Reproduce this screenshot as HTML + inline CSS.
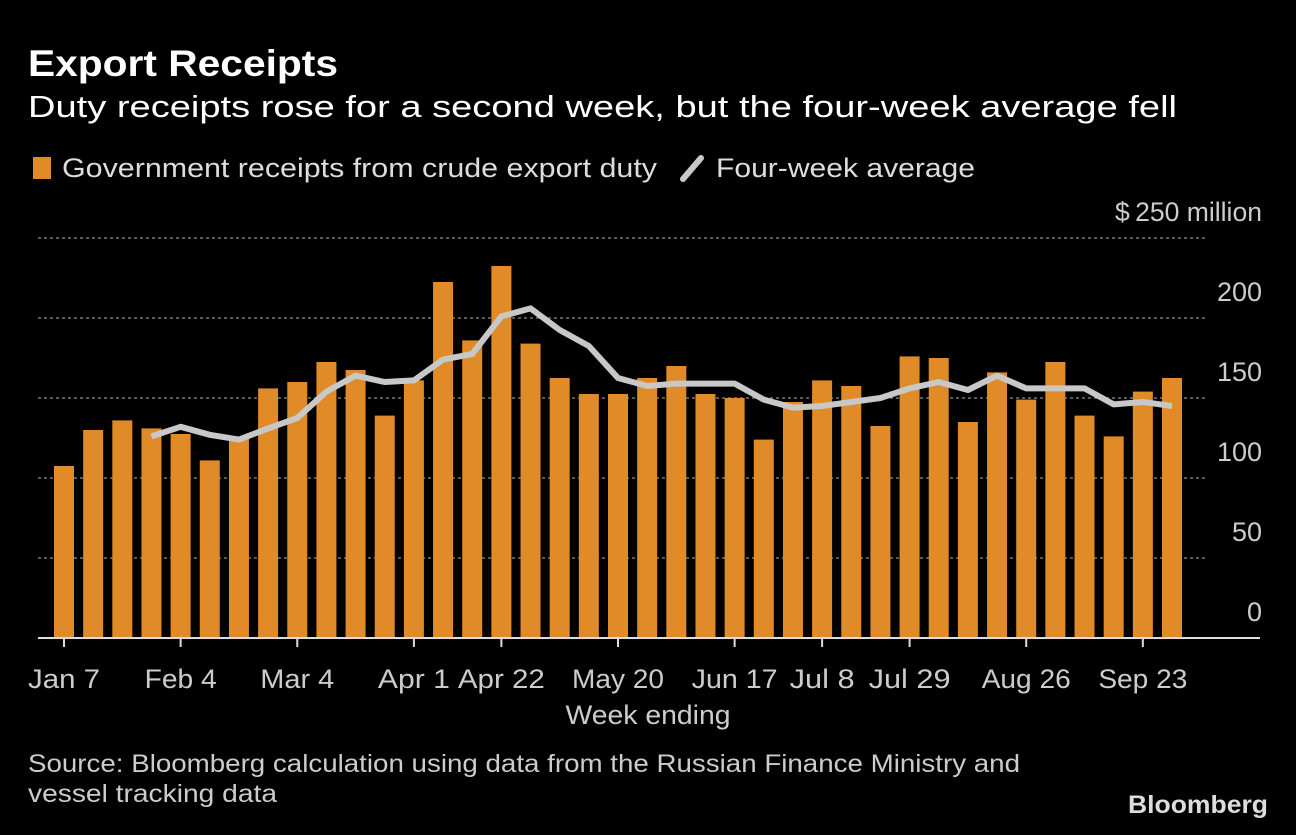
<!DOCTYPE html>
<html><head><meta charset="utf-8"><style>
body{margin:0;background:#000;width:1296px;height:830px;overflow:hidden;font-family:"Liberation Sans",sans-serif;color:#ddd}
svg text{font-family:"Liberation Sans",sans-serif}
</style></head><body>
<svg width="1296" height="830">
<text x="28" y="76" fill="#fff" font-size="37" font-weight="bold" textLength="310" lengthAdjust="spacingAndGlyphs">Export Receipts</text>
<text x="28" y="117" fill="#fff" font-size="31" textLength="1149" lengthAdjust="spacingAndGlyphs">Duty receipts rose for a second week, but the four-week average fell</text>
<g>
<rect x="33" y="157" width="18" height="22" fill="#e08b27"/>
<text x="62" y="177" fill="#ddd" font-size="27" textLength="595" lengthAdjust="spacingAndGlyphs">Government receipts from crude export duty</text>
<line x1="683" y1="179" x2="701" y2="158" stroke="#c8c8c8" stroke-width="6" stroke-linecap="round"/>
<text x="716" y="177" fill="#ddd" font-size="27" textLength="259" lengthAdjust="spacingAndGlyphs">Four-week average</text>
</g>
<g id="grid"></g><g id="bars"></g><g id="line"></g><g id="xaxis"></g>
<text x="648" y="724" fill="#ccc" font-size="27" text-anchor="middle" textLength="165" lengthAdjust="spacingAndGlyphs">Week ending</text>
<text x="28" y="772" fill="#ccc" font-size="25" textLength="992" lengthAdjust="spacingAndGlyphs">Source: Bloomberg calculation using data from the Russian Finance Ministry and</text>
<text x="28" y="802" fill="#ccc" font-size="25" textLength="249" lengthAdjust="spacingAndGlyphs">vessel tracking data</text>
<text x="1268" y="813" fill="#ddd" font-size="25" font-weight="bold" text-anchor="end" textLength="140" lengthAdjust="spacingAndGlyphs">Bloomberg</text>
</svg>
<script>
const receipts=[107.5,130,136,131,127.5,111,125,156,160,172.5,167.5,139,161,222.5,186,232.5,184,162.5,152.5,152.5,162.5,170,152.5,150,124,147.5,161,157.5,132.5,176,175,135,166,149,172.5,139,126,154,162.5];
const average=[null,null,null,126,132,127,124,131,137.5,154,164,160,161,174,177.5,201,206,192.5,182.5,162.5,157.5,159,159,159,149,144,145,147.5,150,156,160,155,164,156,156,156,146,147.5,145];
const yTicks=[0,50,100,150,200,250];
const xLabels=[[0,"Jan 7"],[4,"Feb 4"],[8,"Mar 4"],[12,"Apr 1"],[15,"Apr 22"],[19,"May 20"],[23,"Jun 17"],[26,"Jul 8"],[29,"Jul 29"],[33,"Aug 26"],[37,"Sep 23"]];
const labelWidths=[72,72,74,72,87,92,86,65,82,89,89];
const NS="http://www.w3.org/2000/svg";
const y=v=>638-v*1.6;
const x=i=>64+i*(1108/(receipts.length-1));
function mk(t,a,p){const e=document.createElementNS(NS,t);for(const k in a)e.setAttribute(k,a[k]);document.getElementById(p).appendChild(e);return e;}
yTicks.forEach(v=>{
 if(v>0){const g=mk('line',{x1:38,x2:1206,y1:y(v),y2:y(v),stroke:'#777','stroke-width':1.5,'stroke-dasharray':'3,3'},'grid');
 
 }
 const t=mk('text',{x:1262,y:y(v)-17,fill:'#ccc','font-size':27,'text-anchor':'end'},'grid');
 t.textContent=v===250?'$\u2009250 million':v;
 if(v===250){t.setAttribute('textLength',147);t.setAttribute('lengthAdjust','spacingAndGlyphs');}
 
 
});
receipts.forEach((v,i)=>{
 const r=mk('rect',{x:x(i)-10,y:y(v),width:20,height:v*1.6,fill:'#e08b27'},'bars');
 
 
});
let d='';average.forEach((v,i)=>{if(v!==null)d+=(d?'L':'M')+x(i)+','+y(v);});
const p=mk('path',{d:d,fill:'none',stroke:'#c8c8c8','stroke-width':6,'stroke-linejoin':'round'},'line');


const ax=mk('line',{x1:38,x2:1260,y1:638,y2:638,stroke:'#ddd','stroke-width':2},'xaxis');


xLabels.forEach(([i,l],k)=>{
 const tk=mk('line',{x1:x(i),x2:x(i),y1:638,y2:647,stroke:'#ddd','stroke-width':2},'xaxis');
 
 
 const t=mk('text',{x:x(i),y:688,fill:'#ccc','font-size':27,'text-anchor':'middle',textLength:labelWidths[k],lengthAdjust:'spacingAndGlyphs'},'xaxis');
 t.textContent=l;
 
 
});
</script>
</body></html>
